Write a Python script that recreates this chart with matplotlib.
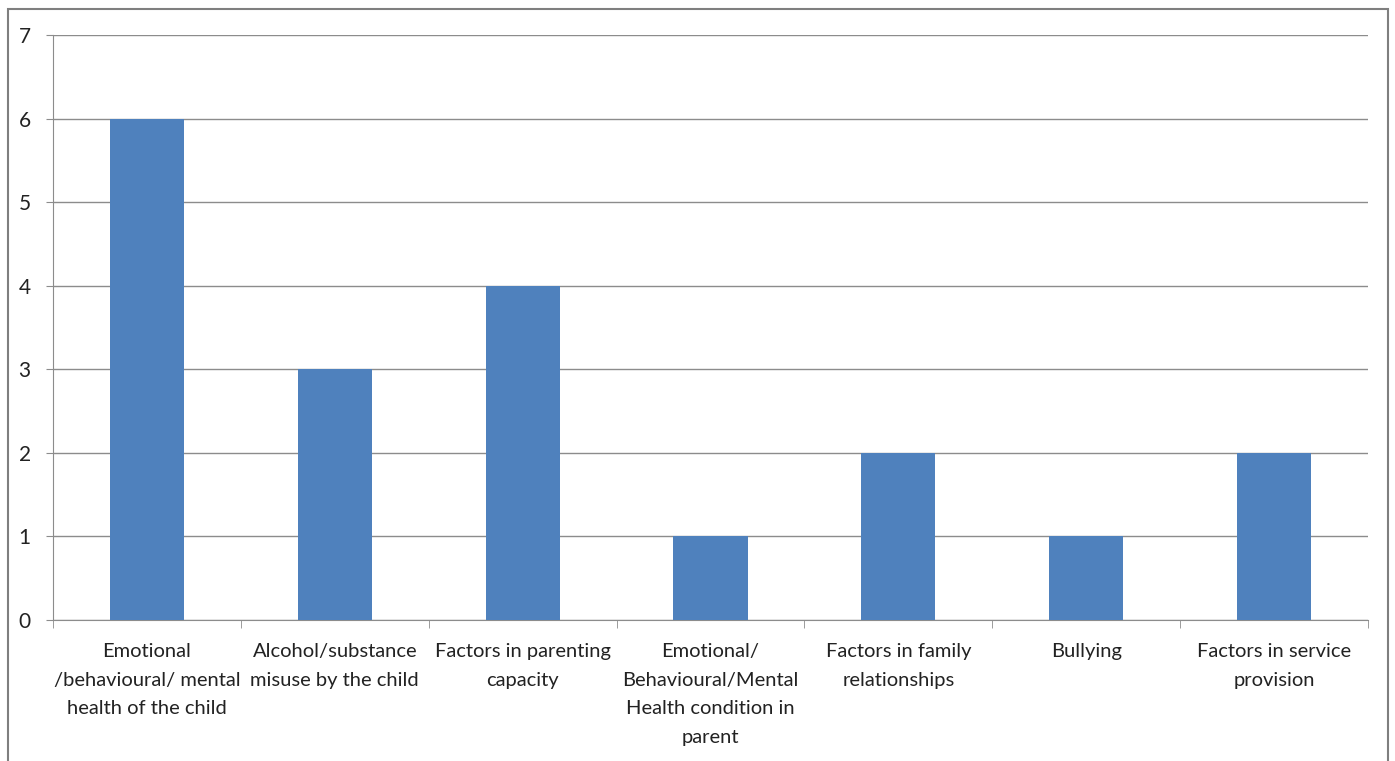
import matplotlib.pyplot as plt
import numpy as np
from matplotlib.patches import Rectangle

categories = [
    "Emotional\n/behavioural/ mental\nhealth of the child",
    "Alcohol/substance\nmisuse by the child",
    "Factors in parenting\ncapacity",
    "Emotional/\nBehavioural/Mental\nHealth condition in\nparent",
    "Factors in family\nrelationships",
    "Bullying",
    "Factors in service\nprovision",
]
values = [6, 3, 4, 1, 2, 1, 2]

plt.rcParams["font.family"] = ["Lato", "DejaVu Sans"]

fig = plt.figure(figsize=(13.95, 7.61), dpi=100)
ax = fig.add_axes([53 / 1395, 1 - 620 / 761, (1368 - 53) / 1395, (620 - 35) / 761])

x = np.arange(len(values))
ax.bar(x, values, width=0.395, color="#4F81BD", zorder=3)

ax.set_xlim(-0.5, len(values) - 0.5)
ax.set_ylim(0, 7)
ax.set_yticks(range(0, 8))
ax.yaxis.grid(True, color="#8c8c8c", linewidth=1, zorder=0)

ax.set_xticks(x)
ax.set_xticklabels(categories, fontsize=14.5, color="#222222", linespacing=1.84)
ax.set_xticks(np.arange(-0.5, len(values)), minor=True)
ax.tick_params(axis="x", which="major", length=0, pad=16.5)
ax.tick_params(axis="x", which="minor", length=6, color="#8c8c8c")
ax.tick_params(axis="y", length=5, color="#8c8c8c", labelsize=15, labelcolor="#222222", pad=11)

for s in ["top", "right"]:
    ax.spines[s].set_visible(False)
for s in ["left", "bottom"]:
    ax.spines[s].set_color("#8c8c8c")

# outer chart frame
fig.patches.append(Rectangle((8 / 1395, -0.05), (1388 - 8) / 1395, 1.05 - 9 / 761,
                             transform=fig.transFigure, fill=False,
                             edgecolor="#7f7f7f", linewidth=1.5))

fig.savefig("out.png", dpi=100)
